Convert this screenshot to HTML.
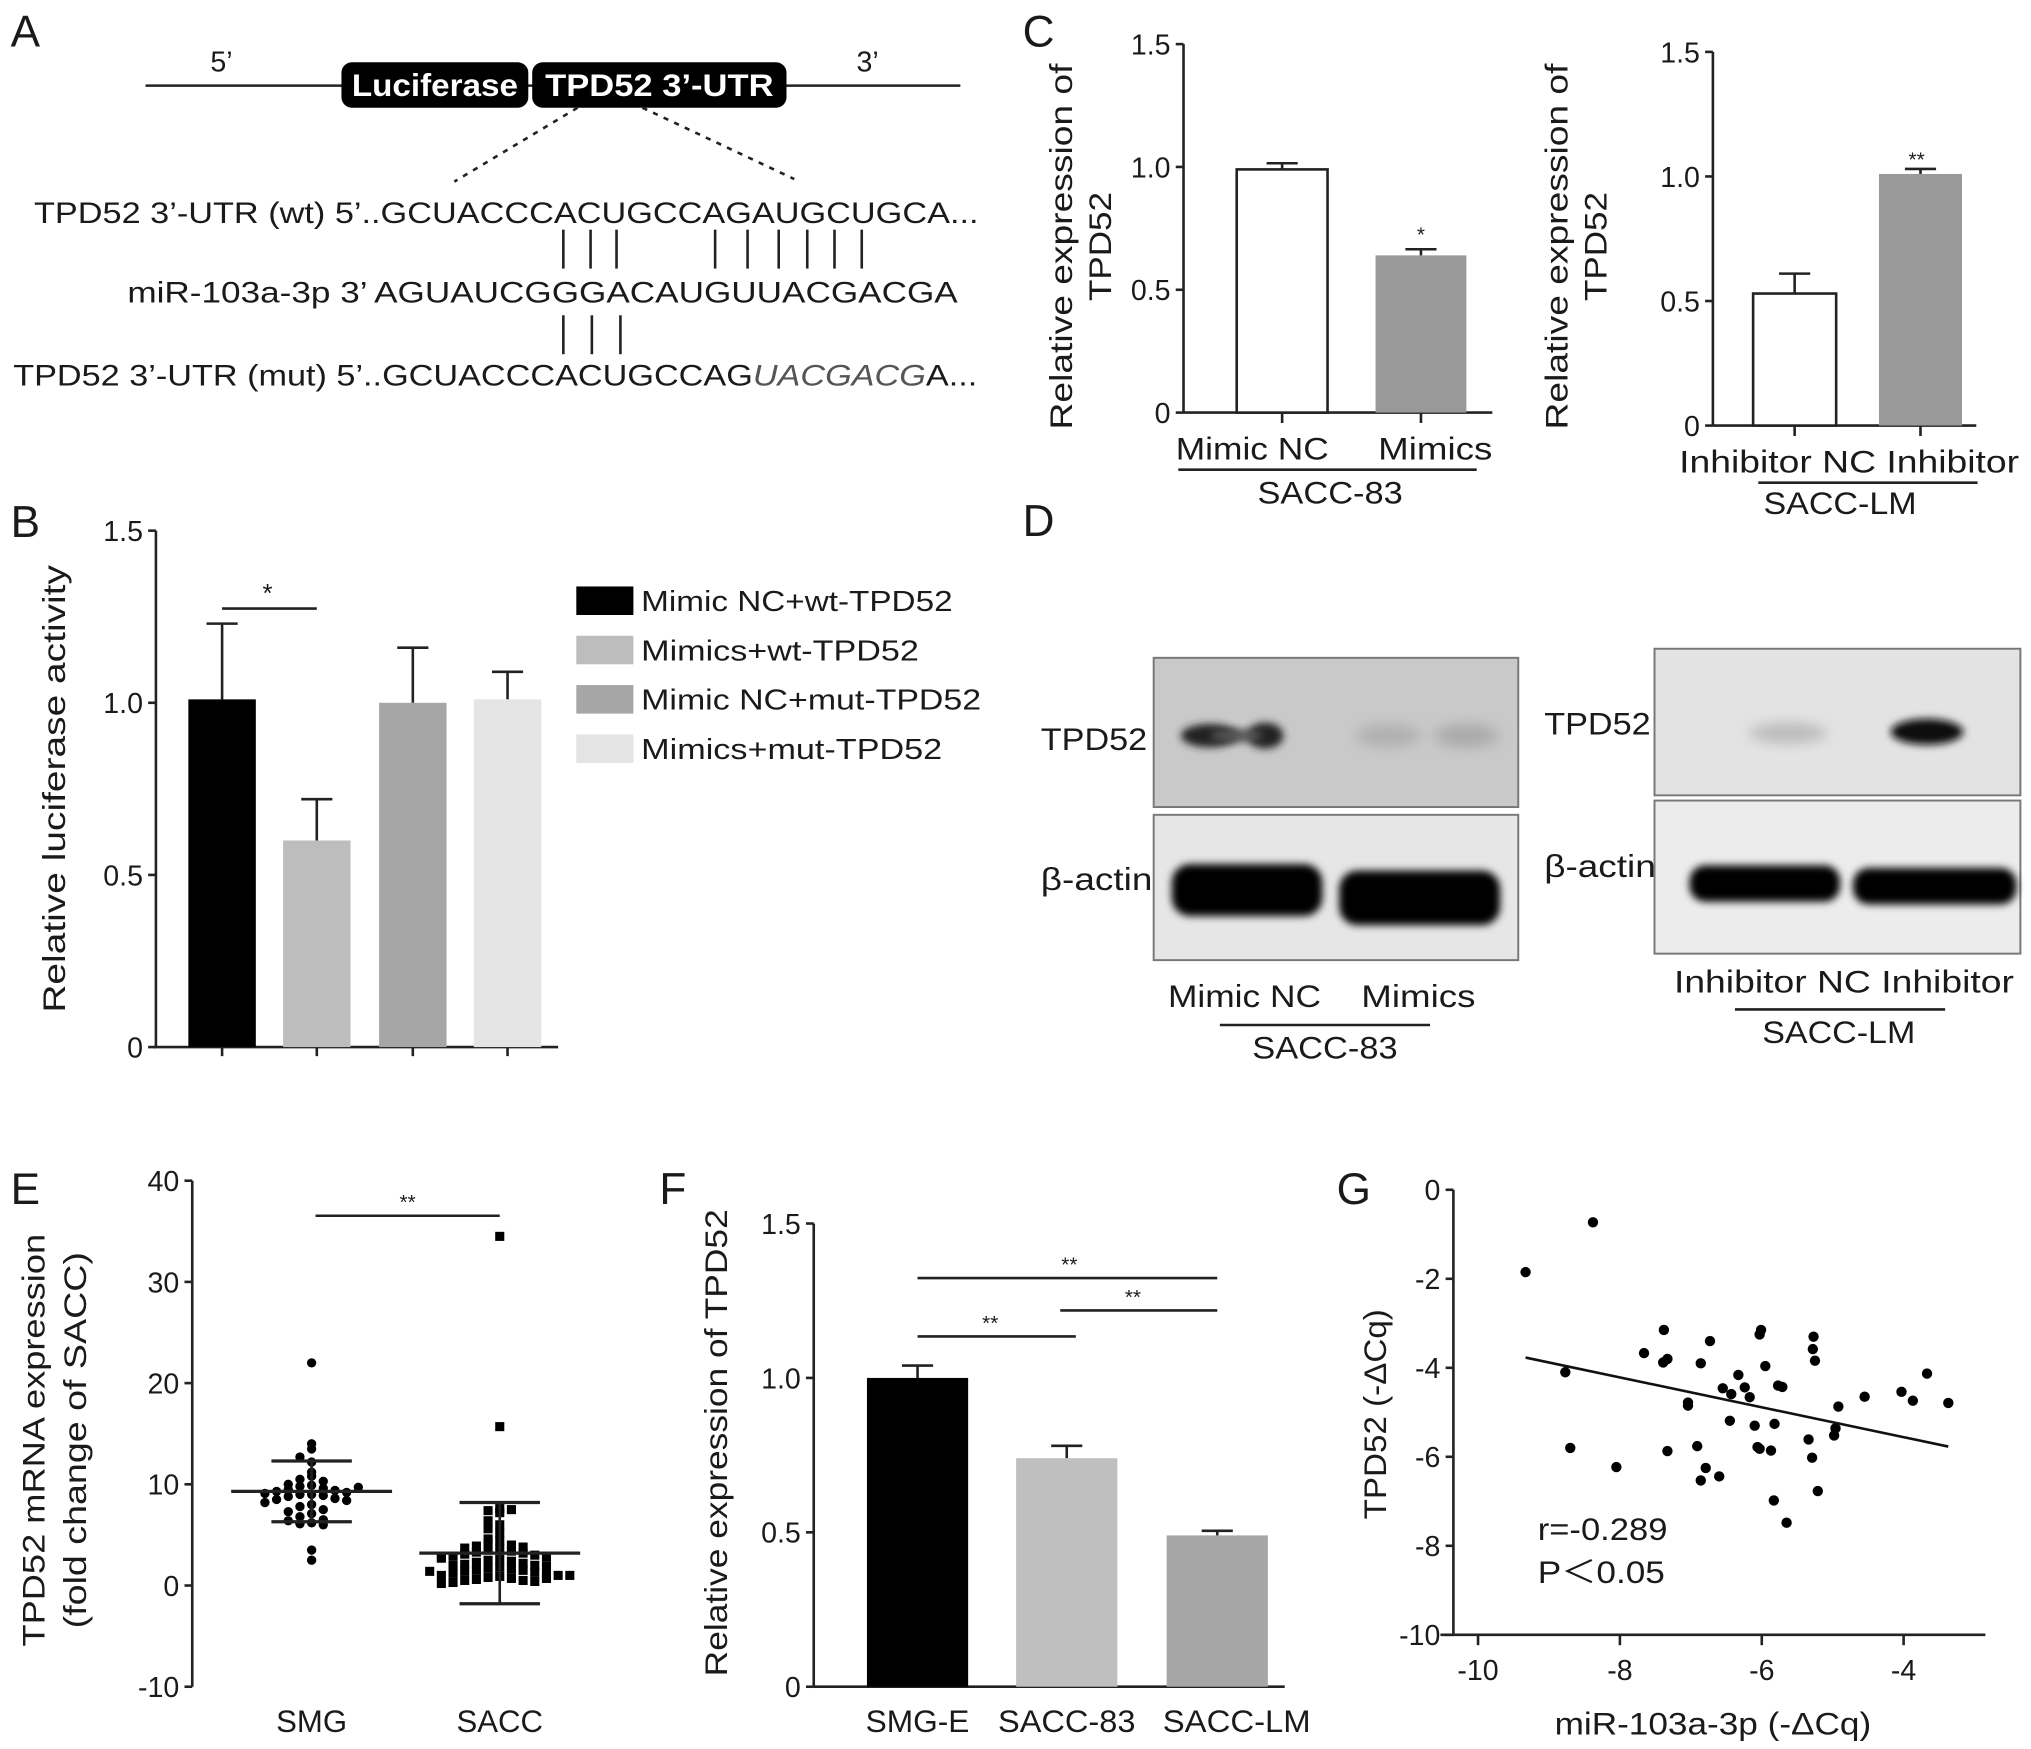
<!DOCTYPE html>
<html><head><meta charset="utf-8">
<style>
html,body{margin:0;padding:0;background:#fff;}
svg{display:block;font-family:"Liberation Sans",Arial,sans-serif;}
text{fill:#1a1a1a;}
</style></head>
<body>
<svg id="fig" width="2031" height="1749" viewBox="0 0 1565 1348" xmlns="http://www.w3.org/2000/svg">
<defs>
<filter id="blur3" x="-50%" y="-50%" width="200%" height="200%"><feGaussianBlur stdDeviation="5"/></filter>
<filter id="blur2" x="-50%" y="-50%" width="200%" height="200%"><feGaussianBlur stdDeviation="3"/></filter>
</defs>

<!-- Panel letters -->
<text x="8" y="36" font-size="34">A</text>
<text x="8" y="414" font-size="34">B</text>
<text x="788" y="36" font-size="34">C</text>
<text x="788" y="413" font-size="34">D</text>
<text x="8" y="928" font-size="34">E</text>
<text x="508" y="928" font-size="34">F</text>
<text x="1030" y="928" font-size="34">G</text>

<!-- Panel A -->
<g>
<line x1="112" y1="66" x2="740" y2="66" stroke="#222" stroke-width="2"/>
<text x="162" y="55" font-size="22">5’</text>
<text x="660" y="55" font-size="22">3’</text>
<rect x="263" y="48" width="144" height="35" rx="8" fill="#000"/>
<text x="335" y="74" font-size="24" font-weight="bold" style="fill:#fff" text-anchor="middle" textLength="128" lengthAdjust="spacingAndGlyphs">Luciferase</text>
<rect x="410" y="48" width="196" height="35" rx="8" fill="#000"/>
<text x="508" y="74" font-size="24" font-weight="bold" style="fill:#fff" text-anchor="middle" textLength="176" lengthAdjust="spacingAndGlyphs">TPD52 3’-UTR</text>
<line x1="445" y1="83" x2="350" y2="140" stroke="#222" stroke-width="2" stroke-dasharray="4,5"/>
<line x1="495" y1="83" x2="612" y2="138" stroke="#222" stroke-width="2" stroke-dasharray="4,5"/>
<text x="26" y="172" font-size="23" textLength="728" lengthAdjust="spacingAndGlyphs">TPD52 3’-UTR (wt) 5’..GCUACCCACUGCCAGAUGCUGCA...</text>
<text x="98" y="233" font-size="23" textLength="640" lengthAdjust="spacingAndGlyphs">miR-103a-3p 3’ AGUAUCGGGACAUGUUACGACGA</text>
<text x="10" y="297" font-size="23" textLength="743" lengthAdjust="spacingAndGlyphs">TPD52 3’-UTR (mut) 5’..GCUACCCACUGCCAG<tspan font-style="italic" fill="#555">UACGACG</tspan>A...</text>
<g stroke="#222" stroke-width="2">
<line x1="434" y1="177" x2="434" y2="207"/><line x1="455" y1="177" x2="455" y2="207"/><line x1="475" y1="177" x2="475" y2="207"/>
<line x1="551" y1="177" x2="551" y2="207"/><line x1="576" y1="177" x2="576" y2="207"/><line x1="600" y1="177" x2="600" y2="207"/><line x1="622" y1="177" x2="622" y2="207"/><line x1="643" y1="177" x2="643" y2="207"/><line x1="664" y1="177" x2="664" y2="207"/>
<line x1="434" y1="243" x2="434" y2="273"/><line x1="456" y1="243" x2="456" y2="273"/><line x1="478" y1="243" x2="478" y2="273"/>
</g>
</g>

<g id="chartB"></g>
<g id="chartC1"></g>
<g id="chartC2"></g>
<g id="chartE"></g>
<g id="chartF"></g>
<g id="chartG"></g>

<!-- Panel D blots -->
<g>
<rect x="889" y="507" width="281" height="115" fill="#c9c9c9" stroke="#777" stroke-width="1.5"/>
<ellipse cx="932" cy="567" rx="22" ry="9" fill="#222" filter="url(#blur2)"/>
<ellipse cx="975" cy="567" rx="14" ry="10" fill="#222" filter="url(#blur2)"/>
<ellipse cx="953" cy="567" rx="20" ry="5" fill="#555" filter="url(#blur2)"/>
<ellipse cx="1070" cy="567" rx="25" ry="9" fill="#b0b0b0" filter="url(#blur3)"/>
<ellipse cx="1130" cy="567" rx="25" ry="9" fill="#aaa" filter="url(#blur3)"/>
<rect x="889" y="628" width="281" height="112" fill="#e6e6e6" stroke="#777" stroke-width="1.5"/>
<rect x="903" y="666" width="116" height="40" rx="14" fill="#000" filter="url(#blur2)"/>
<rect x="1032" y="671" width="124" height="42" rx="14" fill="#000" filter="url(#blur2)"/>
<rect x="1275" y="500" width="282" height="113" fill="#e3e3e3" stroke="#777" stroke-width="1.5"/>
<ellipse cx="1378" cy="565" rx="30" ry="8" fill="#bbb" filter="url(#blur3)"/>
<ellipse cx="1485" cy="564" rx="28" ry="10" fill="#111" filter="url(#blur2)"/>
<rect x="1275" y="617" width="282" height="118" fill="#ececec" stroke="#777" stroke-width="1.5"/>
<rect x="1302" y="667" width="116" height="28" rx="12" fill="#000" filter="url(#blur2)"/>
<rect x="1428" y="669" width="126" height="28" rx="12" fill="#000" filter="url(#blur2)"/>
<text x="802" y="578" font-size="24" textLength="82" lengthAdjust="spacingAndGlyphs">TPD52</text>
<text x="802" y="686" font-size="24" textLength="86" lengthAdjust="spacingAndGlyphs">β-actin</text>
<text x="1190" y="566" font-size="24" textLength="82" lengthAdjust="spacingAndGlyphs">TPD52</text>
<text x="1190" y="676" font-size="24" textLength="86" lengthAdjust="spacingAndGlyphs">β-actin</text>
<text x="900" y="776" font-size="24" textLength="118" lengthAdjust="spacingAndGlyphs">Mimic NC</text>
<text x="1049" y="776" font-size="24" textLength="88" lengthAdjust="spacingAndGlyphs">Mimics</text>
<line x1="940" y1="790" x2="1102" y2="790" stroke="#222" stroke-width="2"/>
<text x="1021" y="816" font-size="24" text-anchor="middle" textLength="112" lengthAdjust="spacingAndGlyphs">SACC-83</text>
<text x="1290" y="765" font-size="24" textLength="262" lengthAdjust="spacingAndGlyphs">Inhibitor NC Inhibitor</text>
<line x1="1337" y1="778" x2="1499" y2="778" stroke="#222" stroke-width="2"/>
<text x="1417" y="804" font-size="24" text-anchor="middle" textLength="118" lengthAdjust="spacingAndGlyphs">SACC-LM</text>
</g>

<script>
// ---------- Data ----------
const bCategories = ["Mimic NC+wt-TPD52","Mimics+wt-TPD52","Mimic NC+mut-TPD52","Mimics+mut-TPD52"];
const bValues = [1.01, 0.60, 1.00, 1.01];
const bErrors = [0.22, 0.12, 0.16, 0.08];
const bTicks = [0, 0.5, 1.0, 1.5];
const bTickLabels = ["0","0.5","1.0","1.5"];

const c1Categories = ["Mimic NC","Mimics"];
const c1Values = [0.99, 0.64];
const c1Errors = [0.025, 0.025];
const c2Categories = ["Inhibitor NC","Inhibitor"];
const c2Values = [0.53, 1.01];
const c2Errors = [0.08, 0.02];
const cTicks = [0, 0.5, 1.0, 1.5];
const cTickLabels = ["0","0.5","1.0","1.5"];

const eCategories = ["SMG","SACC"];
const eSMG = [22,14,13.5,12.7,12.2,11.2,10.8,10.5,10.3,10,9.9,9.8,9.6,9.5,9.4,9.3,9.2,9.1,9,9,8.9,8.8,8.6,8.5,8.4,8.2,8,7.8,7.5,7.3,7.1,6.8,6.5,6.4,6.2,6.1,6,3.5,2.5,9.7];
const eSACC = [34.5,15.7,7.6,7.4,7.2,7.5,6.4,6,5.6,5.2,4.6,4.4,4.2,4,3.9,3.8,3.7,3.6,3.5,3.4,3.3,3.2,3.1,3,2.9,2.8,2.6,2.5,2.4,2.3,2.2,2.1,2,2,1.9,1.8,1.7,1.6,1.5,1.5,1.4,1.3,1.2,1.1,1,1,0.9,0.8,0.7,0.6,0.5,0.5,0.4,0.3,2.7,2.9,1.4,1.0,0.7,0.2];
const eMeans = [9.3, 3.2];
const eSD = [3.0, 5.0];
const eTicks = [-10,0,10,20,30,40];
const eTickLabels = ["-10","0","10","20","30","40"];

const fCategories = ["SMG-E","SACC-83","SACC-LM"];
const fValues = [1.00, 0.74, 0.49];
const fErrors = [0.04, 0.04, 0.015];
const fTicks = [0,0.5,1.0,1.5];
const fTickLabels = ["0","0.5","1.0","1.5"];

const gX = [-8.38,-9.33,-8.77,-8.70,-8.05,-7.66,-7.38,-7.39,-7.33,-7.33,-7.04,-7.04,-6.91,-6.86,-6.86,-6.79,-6.73,-6.60,-6.55,-6.45,-6.43,-6.33,-6.24,-6.17,-6.10,-6.06,-6.03,-6.03,-6.01,-5.95,-5.87,-5.83,-5.82,-5.77,-5.71,-5.65,-5.34,-5.29,-5.28,-5.27,-5.25,-5.21,-4.98,-4.96,-4.92,-4.55,-4.03,-3.87,-3.67,-3.37];
const gY = [-0.73,-1.85,-4.10,-5.80,-6.23,-3.67,-3.15,-3.88,-3.80,-5.87,-4.85,-4.78,-5.76,-3.90,-6.53,-6.25,-3.40,-6.44,-4.46,-5.19,-4.59,-4.16,-4.44,-4.66,-5.30,-5.78,-5.82,-3.25,-3.15,-3.96,-5.86,-6.98,-5.26,-4.40,-4.43,-7.48,-5.61,-6.02,-3.58,-3.30,-3.84,-6.77,-5.52,-5.36,-4.87,-4.65,-4.54,-4.74,-4.13,-4.79];
const gFitX = [-9.33, -3.37];
const gFitY = [-3.77, -5.77];
const gXTicks = [-10,-8,-6,-4];
const gXTickLabels = ["-10","-8","-6","-4"];
const gYTicks = [0,-2,-4,-6,-8,-10];
const gYTickLabels = ["0","-2","-4","-6","-8","-10"];

// ---------- Helpers ----------
const NS = "http://www.w3.org/2000/svg";
function el(tag, attrs, parent){
  const e = document.createElementNS(NS, tag);
  for (const k in attrs) e.setAttribute(k, attrs[k]);
  parent.appendChild(e);
  return e;
}
function lin(d0,d1,r0,r1){ return v => r0 + (v-d0)*(r1-r0)/(d1-d0); }

function yAxis(g, x, y, ticks, labels, top, bottom, fs){
  const ax = el("line",{x1:x,y1:top,x2:x,y2:bottom,stroke:"#222","stroke-width":2},g);
  
  
  ticks.forEach((t,i)=>{
    el("line",{x1:x-6,y1:y(t),x2:x,y2:y(t),stroke:"#222","stroke-width":2},g);
    const tx = el("text",{x:x-10,y:y(t)+8,"font-size":fs||22,"text-anchor":"end"},g);
    tx.textContent = labels[i];
    
    
  });
}
function bars(g, cats, vals, errs, xs, y, w, fills, strokes){
  vals.forEach((v,i)=>{
    const x = xs[i];
    const top = y(v), base = y(0);
    const eTop = y(v+errs[i]);
    const el1 = el("line",{x1:x,y1:top,x2:x,y2:eTop,stroke:"#222","stroke-width":2},g);
    
    
    el("line",{x1:x-12,y1:eTop,x2:x+12,y2:eTop,stroke:"#222","stroke-width":2},g);
    const r = el("rect",{x:x-w/2,y:top,width:w,height:base-top,fill:fills[i],stroke:strokes?strokes[i]:"none","stroke-width":2},g);
    
    
  });
}
function txt(g, x, y, s, fs, anchor, len){
  const t = el("text",{x:x,y:y,"font-size":fs,"text-anchor":anchor||"start"},g);
  if (len){ t.setAttribute("textLength",len); t.setAttribute("lengthAdjust","spacingAndGlyphs"); }
  t.textContent = s;
  return t;
}
function rotLabel(g, x, y, s, fs, len){
  const t = el("text",{x:0,y:0,"font-size":fs,"text-anchor":"middle",transform:`translate(${x},${y}) rotate(-90)`},g);
  if (len){ t.setAttribute("textLength",len); t.setAttribute("lengthAdjust","spacingAndGlyphs"); }
  t.textContent = s;
  return t;
}

// ---------- Panel B ----------
(function(){
  const g = document.getElementById("chartB");
  const y = lin(0,1.5,807,409);
  const xs = [171,244,318,391];
  yAxis(g,120,y,bTicks,bTickLabels,409,807);
  const xa = el("line",{x1:118,y1:807,x2:430,y2:807,stroke:"#222","stroke-width":2},g);
  
  
  xs.forEach(x=>el("line",{x1:x,y1:807,x2:x,y2:814,stroke:"#222","stroke-width":2},g));
  const fills = ["#000","#bdbdbd","#a6a6a6","#e4e4e4"];
  bars(g,bCategories,bValues,bErrors,xs,y,52,fills);
  el("line",{x1:171,y1:469,x2:244,y2:469,stroke:"#222","stroke-width":2},g);
  txt(g,206,464,"*",20,"middle");
  const yl = rotLabel(g,50,608,"Relative luciferase activity",24,345);
  
  
  bCategories.forEach((c,i)=>{
    const ly = 452 + i*38;
    const sw = el("rect",{x:444,y:ly,width:44,height:22,fill:fills[i]},g);
    
    
    const t = txt(g,494,ly+19,c,22,"start",[240,214,262,232][i]);
    
    
  });
})();

// ---------- Panel C ----------
(function(){
  const g = document.getElementById("chartC1");
  const y = lin(0,1.5,318,34);
  const xs = [988,1095];
  yAxis(g,912,y,cTicks,cTickLabels,34,318);
  el("line",{x1:912,y1:318,x2:1150,y2:318,stroke:"#222","stroke-width":2},g);
  xs.forEach(x=>el("line",{x1:x,y1:318,x2:x,y2:326,stroke:"#222","stroke-width":2},g));
  bars(g,c1Categories,c1Values,c1Errors,xs,y,70,["#fff","#999"],["#222","none"]);
  txt(g,1095,y(c1Values[1]+c1Errors[1])-6,"*",16,"middle");
  txt(g,906,354,"Mimic NC",24,"start",118);
  txt(g,1062,354,"Mimics",24,"start",88);
  el("line",{x1:908,y1:362,x2:1138,y2:362,stroke:"#222","stroke-width":2},g);
  txt(g,1025,388,"SACC-83",24,"middle",112);
  const a = rotLabel(g,826,190,"Relative expression of",24,282);
  
  
  rotLabel(g,856,190,"TPD52",24,84);

  const g2 = document.getElementById("chartC2");
  const y2 = lin(0,1.5,328,40);
  const xs2 = [1383,1480];
  yAxis(g2,1320,y2,cTicks,cTickLabels,40,328);
  el("line",{x1:1320,y1:328,x2:1523,y2:328,stroke:"#222","stroke-width":2},g2);
  xs2.forEach(x=>el("line",{x1:x,y1:328,x2:x,y2:336,stroke:"#222","stroke-width":2},g2));
  bars(g2,c2Categories,c2Values,c2Errors,xs2,y2,64,["#fff","#999"],["#222","none"]);
  txt(g2,1477,y2(c2Values[1]+c2Errors[1])-2,"**",16,"middle");
  txt(g2,1294,364,"Inhibitor NC Inhibitor",24,"start",262);
  el("line",{x1:1355,y1:372,x2:1524,y2:372,stroke:"#222","stroke-width":2},g2);
  txt(g2,1418,396,"SACC-LM",24,"middle",118);
  const b = rotLabel(g2,1208,190,"Relative expression of",24,282);
  
  
  rotLabel(g2,1238,190,"TPD52",24,84);
})();

// ---------- Panel E ----------
(function(){
  const g = document.getElementById("chartE");
  const y = lin(-10,40,1300,910);
  yAxis(g,148,y,eTicks,eTickLabels,910,1300);
  const cx = [240,385];
  const groups = [eSMG,eSACC];
  groups.forEach((vals,gi)=>{
    const bins = {};
    vals.forEach(v=>{
      const b = Math.round(y(v)/7);
      bins[b] = (bins[b]||0)+1;
      const k = bins[b]-1;
      const off = (k%2===0?1:-1)*Math.ceil(k/2)*9;
      const px = cx[gi]+off, py = y(v);
      let m;
      if (gi===0){
        m = el("circle",{cx:px,cy:py,r:3.6,fill:"#000"},g);
      } else {
        m = el("rect",{x:px-3.5,y:py-3.5,width:7,height:7,fill:"#000"},g);
      }
      
      
    });
    const mn = y(eMeans[gi]), hi = y(eMeans[gi]+eSD[gi]), lo = y(eMeans[gi]-eSD[gi]);
    const ml = el("line",{x1:cx[gi]-62,y1:mn,x2:cx[gi]+62,y2:mn,stroke:"#222","stroke-width":2.5},g);
    
    
    el("line",{x1:cx[gi],y1:hi,x2:cx[gi],y2:lo,stroke:"#222","stroke-width":2},g);
    el("line",{x1:cx[gi]-31,y1:hi,x2:cx[gi]+31,y2:hi,stroke:"#222","stroke-width":2.5},g);
    el("line",{x1:cx[gi]-31,y1:lo,x2:cx[gi]+31,y2:lo,stroke:"#222","stroke-width":2.5},g);
    const lab = txt(g,cx[gi],1335,eCategories[gi],24,"middle");
    
    
  });
  el("line",{x1:243,y1:937,x2:385,y2:937,stroke:"#222","stroke-width":2},g);
  txt(g,314,932,"**",16,"middle");
  const a = rotLabel(g,34,1110,"TPD52 mRNA expression",24,318);
  
  
  rotLabel(g,66,1110,"(fold change of SACC)",24,290);
})();

// ---------- Panel F ----------
(function(){
  const g = document.getElementById("chartF");
  const y = lin(0,1.5,1300,943);
  const xs = [707,822,938];
  yAxis(g,627,y,fTicks,fTickLabels,943,1300);
  el("line",{x1:627,y1:1300,x2:990,y2:1300,stroke:"#222","stroke-width":2},g);
  bars(g,fCategories,fValues,fErrors,xs,y,78,["#000","#bfbfbf","#a6a6a6"]);
  fCategories.forEach((c,i)=>{
    const t = txt(g,xs[i]+[0,0,15][i],1335,c,24,"middle",[80,106,114][i]);
    
    
  });
  el("line",{x1:707,y1:985,x2:938,y2:985,stroke:"#222","stroke-width":2},g);
  txt(g,824,980,"**",16,"middle");
  el("line",{x1:707,y1:1030,x2:829,y2:1030,stroke:"#222","stroke-width":2},g);
  txt(g,763,1025,"**",16,"middle");
  el("line",{x1:817,y1:1010,x2:938,y2:1010,stroke:"#222","stroke-width":2},g);
  txt(g,873,1005,"**",16,"middle");
  const a = rotLabel(g,560,1112,"Relative expression of TPD52",24,360);
  
  
})();

// ---------- Panel G ----------
(function(){
  const g = document.getElementById("chartG");
  const x = lin(-10,-4,1139,1467);
  const y = lin(0,-10,917,1260);
  yAxis(g,1120,y,gYTicks,gYTickLabels,917,1260);
  const xa = el("line",{x1:1110,y1:1260,x2:1530,y2:1260,stroke:"#222","stroke-width":2},g);
  
  
  gXTicks.forEach((t,i)=>{
    el("line",{x1:x(t),y1:1260,x2:x(t),y2:1268,stroke:"#222","stroke-width":2},g);
    const tl = txt(g,x(t),1295,gXTickLabels[i],22,"middle");
    
    
  });
  gX.forEach((vx,i)=>{
    const p = el("circle",{cx:x(vx),cy:y(gY[i]),r:4,fill:"#000"},g);
    
    
  });
  const fl = el("line",{x1:x(gFitX[0]),y1:y(gFitY[0]),x2:x(gFitX[1]),y2:y(gFitY[1]),stroke:"#111","stroke-width":2},g);
  
  
  txt(g,1185,1187,"r=-0.289",24,"start",100);
  txt(g,1185,1220,"P\uFF1C0.05",24,"start",98);
  txt(g,1320,1337,"miR-103a-3p (-ΔCq)",24,"middle",244);
  const a = rotLabel(g,1068,1090,"TPD52 (-ΔCq)",24,162);
  
  
})();
</script>
</svg>
</body></html>
